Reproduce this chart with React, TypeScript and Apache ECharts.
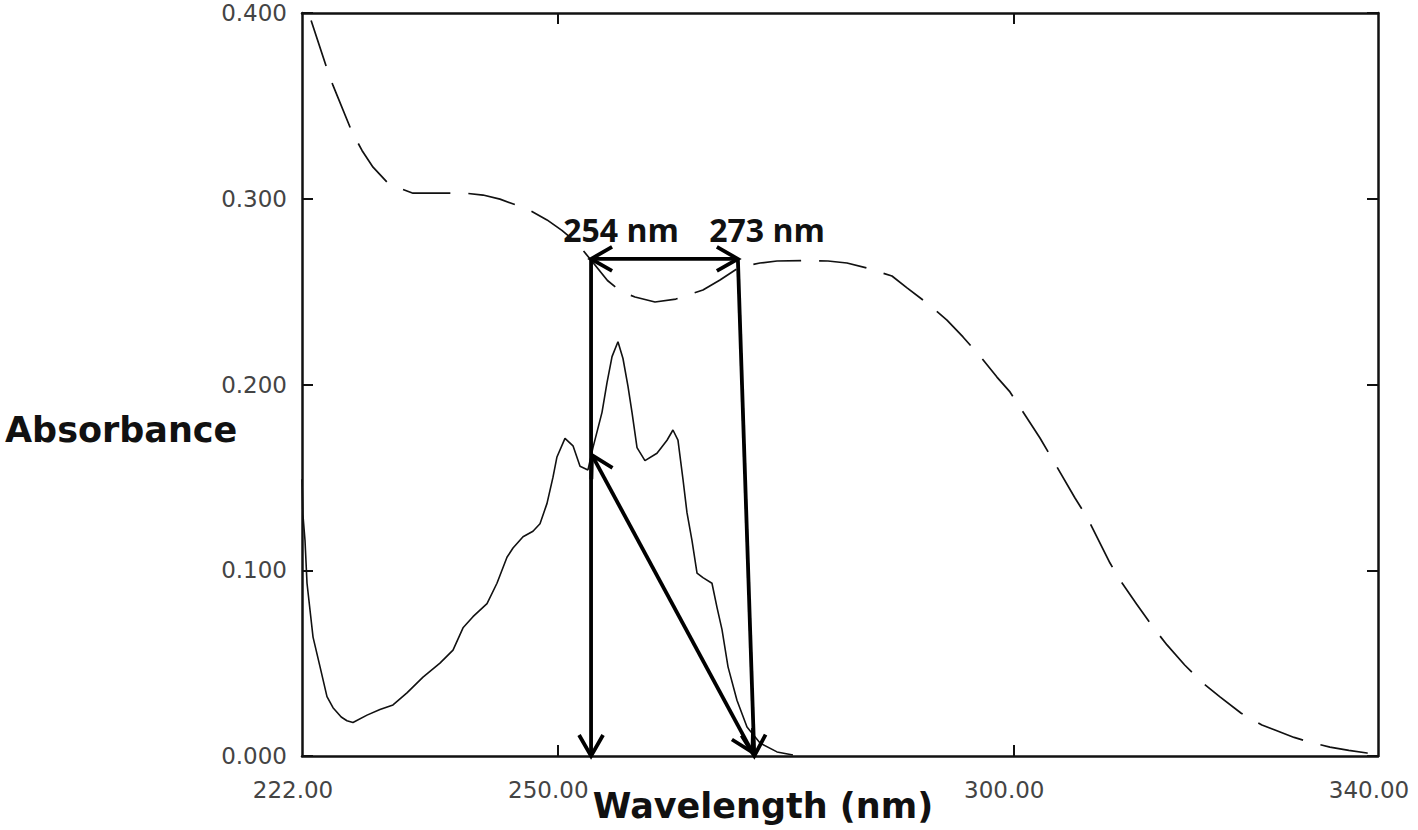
import React, { useEffect, useRef } from "react";
import * as echarts from "echarts";

// Solid spectrum (wavelength nm, absorbance)
const solidSpectrum: number[][] = [
  [222.0, 0.149], [222.1, 0.13], [222.33, 0.116], [222.55, 0.093], [223.21, 0.064],
  [223.98, 0.048], [224.74, 0.032], [225.4, 0.026], [226.3, 0.021], [226.93, 0.019],
  [227.59, 0.018], [229.13, 0.022], [230.55, 0.025], [231.98, 0.0275], [233.51, 0.034],
  [235.27, 0.0425], [237.13, 0.05], [238.56, 0.057], [239.66, 0.069], [240.75, 0.075],
  [242.29, 0.082], [243.38, 0.093], [244.48, 0.107], [245.14, 0.112], [246.24, 0.118],
  [247.33, 0.121], [248.1, 0.125], [248.87, 0.136], [249.52, 0.15], [249.96, 0.161],
  [250.84, 0.171], [251.72, 0.167], [252.49, 0.156], [253.36, 0.154], [253.91, 0.166],
  [254.9, 0.185], [255.45, 0.201], [256.0, 0.215], [256.65, 0.223], [257.2, 0.214],
  [257.75, 0.199], [258.19, 0.185], [258.74, 0.166], [259.61, 0.159], [260.93, 0.163],
  [262.03, 0.17], [262.68, 0.1755], [263.23, 0.17], [263.78, 0.149], [264.22, 0.131],
  [264.77, 0.116], [265.32, 0.0985], [265.97, 0.096], [266.96, 0.093], [267.51, 0.08],
  [268.06, 0.068], [268.72, 0.048], [269.7, 0.03], [270.8, 0.0156], [272.23, 0.007],
  [274.09, 0.0022], [275.84, 0.0005],
];

// Dashed spectrum
const dashedSpectrum: number[][] = [
  [223.0, 0.396], [224.74, 0.37], [225.4, 0.361], [227.48, 0.336], [228.58, 0.326],
  [229.79, 0.317], [231.32, 0.309], [232.53, 0.306], [234.17, 0.303], [237.0, 0.3031],
  [239.88, 0.303], [241.85, 0.302], [243.71, 0.2998], [246.78, 0.2943], [248.87, 0.2886],
  [250.5, 0.283], [252.16, 0.2762], [254.13, 0.2643], [255.5, 0.256], [257.0, 0.25],
  [258.52, 0.2471], [260.71, 0.2444], [263.0, 0.246], [265.97, 0.2509], [267.84, 0.2563],
  [270.03, 0.2633], [272.22, 0.2654], [274.09, 0.2665], [277.0, 0.2667], [279.68, 0.2665],
  [281.76, 0.2654], [283.96, 0.2627], [286.7, 0.2584], [288.35, 0.252], [290.5, 0.244],
  [292.73, 0.2347], [294.49, 0.2256], [296.4, 0.215], [298.21, 0.204], [299.64, 0.196],
  [302.93, 0.1712], [304.03, 0.162], [306.77, 0.1389], [308.08, 0.1287], [310.61, 0.1039],
  [311.7, 0.0948], [313.5, 0.082], [315.32, 0.0694], [316.86, 0.0598], [318.8, 0.049],
  [320.8, 0.0393], [322.67, 0.0318], [325.0, 0.023], [327.27, 0.0167], [328.7, 0.014],
  [330.8, 0.01], [332.87, 0.007], [334.73, 0.0048], [336.8, 0.003], [338.79, 0.0016],
  [340.0, 0.001],
];

// Axis ticks / labels
const xLabelValues = [222, 250, 300, 340];
const xTickValues = [250, 300];
const xMin = 222;
const xMax = 340;
const yMin = 0;
const yMax = 0.4;
const yInterval = 0.1;

// Annotation arrows: [x1, y1, x2, y2, headAtStart, headAtEnd]
const arrowSegments: number[][] = [
  [253.7, 0.2676, 253.7, 0.0, 0, 1],
  [253.7, 0.2676, 269.8, 0.2676, 1, 1],
  [269.8, 0.2676, 271.6, 0.0, 0, 1],
  [253.8, 0.162, 271.4, 0.002, 1, 1],
];

const peakLabels = ["254 nm", "273 nm"];

export default function App() {
  const ref = useRef<HTMLDivElement>(null);

  useEffect(() => {
    const chart = echarts.init(ref.current!, null, { renderer: "svg" });

    const frameLine = { show: true, onZero: false, lineStyle: { color: "#111", width: 2.5 } };
    const innerTick = { inside: true, length: 11, lineStyle: { color: "#111", width: 2 } };
    const labelFont = { fontFamily: "DejaVu Sans", fontSize: 23, color: "#444" };

    chart.setOption({
      animation: false,
      backgroundColor: "#ffffff",
      grid: { left: 302, right: 40, top: 13, bottom: 74, containLabel: false },
      xAxis: [
        {
          type: "value",
          position: "bottom",
          min: xMin,
          max: xMax,
          axisLine: frameLine,
          axisTick: { ...innerTick, customValues: xTickValues },
          axisLabel: {
            ...labelFont,
            customValues: xLabelValues,
            margin: 22,
            padding: [0, 18, 0, 0],
            formatter: (v: number) => v.toFixed(2),
          },
          splitLine: { show: false },
        },
        {
          type: "value",
          position: "top",
          min: xMin,
          max: xMax,
          axisLine: frameLine,
          axisTick: { ...innerTick, customValues: xTickValues },
          axisLabel: { show: false },
          splitLine: { show: false },
        },
      ],
      yAxis: [
        {
          type: "value",
          position: "left",
          min: yMin,
          max: yMax,
          interval: yInterval,
          axisLine: frameLine,
          axisTick: innerTick,
          axisLabel: {
            ...labelFont,
            margin: 15,
            formatter: (v: number) => v.toFixed(3),
          },
          splitLine: { show: false },
        },
        {
          type: "value",
          position: "right",
          min: yMin,
          max: yMax,
          interval: yInterval,
          axisLine: frameLine,
          axisTick: innerTick,
          axisLabel: { show: false },
          splitLine: { show: false },
        },
      ],
      series: [
        {
          type: "line",
          data: dashedSpectrum,
          xAxisIndex: 0,
          yAxisIndex: 0,
          showSymbol: false,
          symbol: "none",
          lineStyle: { color: "#111", width: 1.7, type: [48, 18] },
          z: 2,
        },
        {
          type: "line",
          data: solidSpectrum,
          xAxisIndex: 0,
          yAxisIndex: 0,
          showSymbol: false,
          symbol: "none",
          lineStyle: { color: "#111", width: 1.6 },
          z: 3,
        },
        {
          type: "custom",
          xAxisIndex: 0,
          yAxisIndex: 0,
          clip: false,
          z: 5,
          data: arrowSegments,
          encode: { x: [0, 2], y: [1, 3] },
          renderItem: (params: any, api: any) => {
            const a = api.coord([api.value(0), api.value(1)]);
            const b = api.coord([api.value(2), api.value(3)]);
            const hs = api.value(4);
            const he = api.value(5);
            const dx = b[0] - a[0];
            const dy = b[1] - a[1];
            const len = Math.hypot(dx, dy) || 1;
            const ux = dx / len;
            const uy = dy / len;
            const nx = -uy;
            const ny = ux;
            const L = 21;
            const W = 12;
            const style = { stroke: "#000", lineWidth: 3.8, fill: "none", lineJoin: "miter" };
            const children: any[] = [
              { type: "line", shape: { x1: a[0], y1: a[1], x2: b[0], y2: b[1] }, style },
            ];
            if (he) {
              const bx = b[0] - ux * L;
              const by = b[1] - uy * L;
              children.push({
                type: "polyline",
                shape: { points: [[bx + nx * W, by + ny * W], [b[0], b[1]], [bx - nx * W, by - ny * W]] },
                style,
              });
            }
            if (hs) {
              const bx = a[0] + ux * L;
              const by = a[1] + uy * L;
              children.push({
                type: "polyline",
                shape: { points: [[bx + nx * W, by + ny * W], [a[0], a[1]], [bx - nx * W, by - ny * W]] },
                style,
              });
            }
            return { type: "group", children };
          },
        },
      ],
      graphic: [
        {
          type: "text",
          x: 5,
          y: 430,
          style: {
            text: "Absorbance",
            font: "bold 35px 'DejaVu Sans'",
            fill: "#111",
            verticalAlign: "middle",
            align: "left",
          },
        },
        {
          type: "text",
          x: 763,
          y: 806,
          style: {
            text: "Wavelength (nm)",
            font: "bold 35px 'DejaVu Sans'",
            fill: "#111",
            verticalAlign: "middle",
            align: "center",
          },
        },
        {
          type: "text",
          x: 621,
          y: 229,
          z: 10,
          style: {
            text: peakLabels[0],
            font: "bold 32px 'Open Sans'",
            fill: "#111",
            verticalAlign: "middle",
            align: "center",
          },
        },
        {
          type: "text",
          x: 767,
          y: 229,
          z: 10,
          style: {
            text: peakLabels[1],
            font: "bold 32px 'Open Sans'",
            fill: "#111",
            verticalAlign: "middle",
            align: "center",
          },
        },
      ],
    });

    return () => chart.dispose();
  }, []);

  return (
    <div
      ref={ref}
      style={{ position: "fixed", left: 0, top: 0, width: 1418, height: 830, background: "#fff" }}
    />
  );
}
